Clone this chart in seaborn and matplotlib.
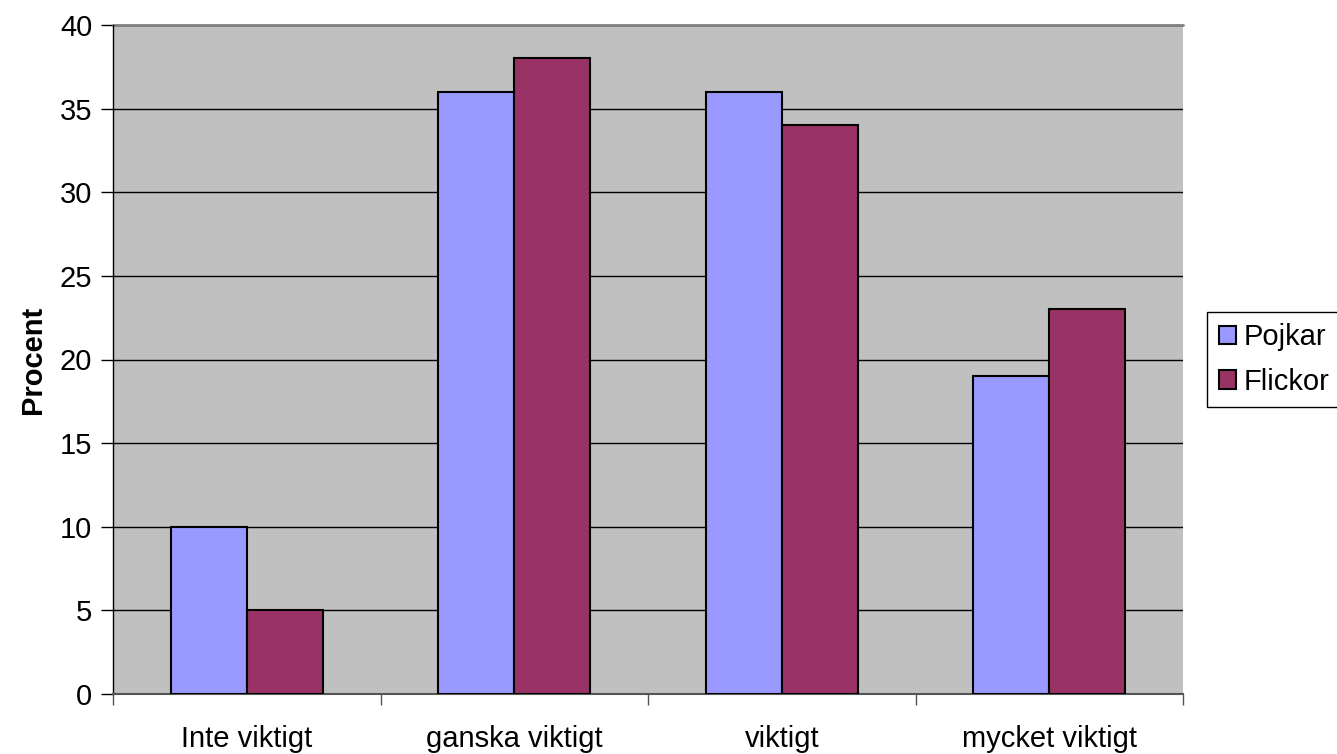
import matplotlib
matplotlib.use("Agg")
import matplotlib.pyplot as plt
import seaborn as sns
import pandas as pd

categories = ["Inte viktigt", "ganska viktigt", "viktigt", "mycket viktigt"]
pojkar = [10, 36, 36, 19]
flickor = [5, 38, 34, 23]
series_names = ["Pojkar", "Flickor"]
yticks = [0, 5, 10, 15, 20, 25, 30, 35, 40]

df = pd.DataFrame({
    "kategori": categories * 2,
    "värde": pojkar + flickor,
    "kön": [series_names[0]] * 4 + [series_names[1]] * 4,
})

sns.set_theme(style="white")
plt.rcParams["font.family"] = ["Liberation Sans", "DejaVu Sans"]
plt.rcParams["text.color"] = "black"
plt.rcParams["xtick.color"] = "black"
plt.rcParams["ytick.color"] = "black"
plt.rcParams["axes.labelcolor"] = "black"

FS = 21

fig = plt.figure(figsize=(13.37, 7.54), dpi=100)
ax = fig.add_axes([113 / 1337, 1 - 694 / 754, 1070 / 1337, 669 / 754])
ax.set_facecolor("#C0C0C0")

sns.barplot(data=df, x="kategori", y="värde", hue="kön", order=categories,
            hue_order=series_names, palette=["#9999FF", "#993366"],
            width=0.568, dodge=True, edgecolor="black", linewidth=1.5,
            saturation=1, ax=ax, zorder=3)

ax.set_ylim(0, 40)
ax.set_xlim(-0.5, 3.5)
ax.set_yticks(yticks)
ax.set_yticklabels([str(v) for v in yticks], fontsize=FS)
ax.yaxis.grid(True, color="black", linewidth=1, zorder=1)
ax.set_axisbelow(True)

ax.set_xticks([-0.5, 0.5, 1.5, 2.5, 3.5])
ax.set_xticklabels([])
ax.set_xticks(range(4), minor=True)
ax.set_xticklabels(categories, minor=True, fontsize=FS)
ax.tick_params(axis="x", which="minor", length=0, pad=22, labelcolor="black")
ax.tick_params(axis="x", which="major", direction="out", length=8, width=1, color="#555555", bottom=True)
ax.tick_params(axis="y", direction="out", length=9, width=1, color="black", left=True, pad=6, labelcolor="black")

ax.set_xlabel("")
ax.set_ylabel("Procent", fontsize=FS, fontweight="bold", color="black")
ax.yaxis.set_label_coords((47 - 113) / 1070, 0.5)

for side in ["top", "right"]:
    ax.spines[side].set_visible(False)
ax.spines["left"].set_color("black")
ax.spines["left"].set_linewidth(1)
ax.spines["bottom"].set_color("#555555")
ax.spines["bottom"].set_linewidth(1.5)
ax.axhline(40, color="#808080", linewidth=2, zorder=2, clip_on=False)

handles, labels = ax.get_legend_handles_labels()
leg = ax.legend(handles, labels, loc="center left", bbox_to_anchor=(1094 / 1070, 0.5),
                fontsize=FS, frameon=True, fancybox=False, edgecolor="black",
                framealpha=1, handlelength=0.6, handleheight=0.6, handletextpad=0.25,
                borderpad=0.4, labelspacing=0.55, borderaxespad=0)
leg.get_frame().set_linewidth(1)
for t in leg.get_texts():
    t.set_color("black")

fig.savefig("out.png", dpi=100)
